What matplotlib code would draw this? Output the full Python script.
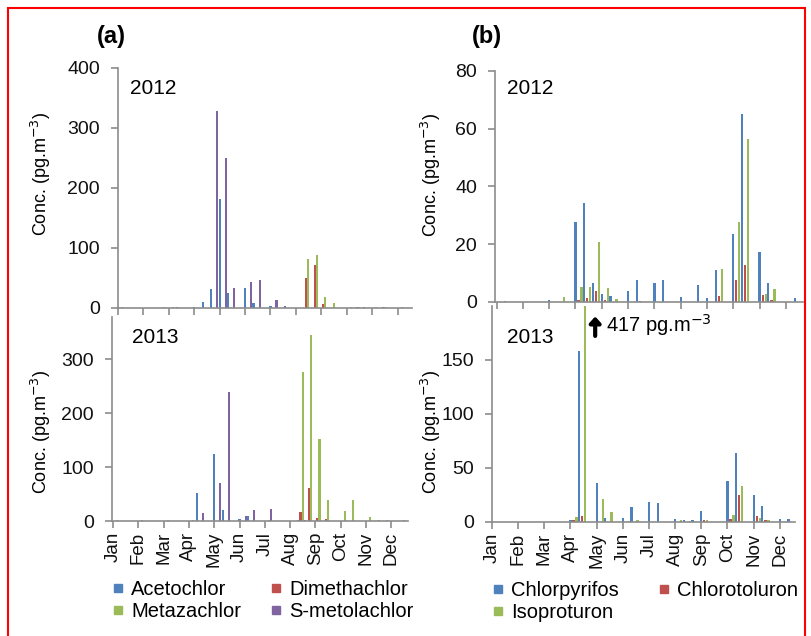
import numpy as np
import matplotlib
matplotlib.use('Agg')
import matplotlib.pyplot as plt
from matplotlib.patches import Rectangle
from matplotlib.lines import Line2D

plt.rcParams['font.family'] = ['Liberation Sans', 'DejaVu Sans']

months = ['Jan', 'Feb', 'Mar', 'Apr', 'May', 'Jun',
          'Jul', 'Aug', 'Sep', 'Oct', 'Nov', 'Dec']

# 36 sampling periods, 3 per month (Jan..Dec)
# panel (a): herbicides
acetochlor_2012 = [1, 0, 0,  0, 0, 0,  0, 1, 0,  1, 10, 32,
                   182, 25, 0,  34, 9, 0,  4, 0, 0,  0, 0, 0,
                   0, 0, 0,  0, 0, 1,  0, 0, 0,  0, 0, 0]
dimethachlor_2012 = [0, 0, 0,  0, 0, 0,  0, 0, 0,  0, 0, 0,
                     0, 0, 0,  0, 0, 0,  0, 0, 0,  0, 50, 71,
                     7, 0, 0,  0, 1, 0,  0, 1, 0,  0, 0, 0]
metazachlor_2012 = [1, 0, 0,  0, 0, 1,  1, 0, 0,  0, 0, 0,
                    0, 0, 0,  0, 0, 0,  0, 0, 0,  0, 82, 88,
                    18, 8, 0,  1, 1, 0,  1, 1, 0,  1, 0, 1]
smetolachlor_2012 = [0, 0, 0,  0, 0, 0,  0, 0, 0,  0, 0, 329,
                     250, 33, 0,  43, 47, 0,  13, 4, 0,  0, 0, 0,
                     0, 0, 0,  0, 0, 0,  0, 0, 0,  0, 0, 0]

acetochlor_2013 = [0, 0, 0,  0, 0, 0,  0, 0, 0,  0, 52, 0,
                   125, 20, 0,  3, 9, 0,  0, 0, 0,  0, 2, 0,
                   0, 0, 0,  0, 0, 0,  0, 0, 0,  0, 0, 0]
dimethachlor_2013 = [0, 0, 0,  0, 0, 0,  0, 0, 0,  0, 0, 0,
                     0, 0, 0,  0, 0, 0,  0, 0, 0,  0, 17, 61,
                     6, 4, 0,  0, 0, 0,  0, 0, 0,  0, 0, 0]
metazachlor_2013 = [1, 0, 0,  1, 0, 0,  1, 0, 0,  1, 0, 0,
                    0, 0, 0,  0, 0, 0,  1, 0, 0,  0, 276, 344,
                    152, 38, 0,  18, 38, 0,  7, 1, 1,  0, 1, 1]
smetolachlor_2013 = [0, 0, 0,  0, 0, 0,  0, 0, 0,  0, 14, 0,
                     70, 239, 0,  9, 21, 0,  23, 0, 0,  0, 2, 0,
                     0, 0, 0,  0, 0, 0,  0, 0, 0,  0, 0, 0]

# panel (b): chlorpyrifos and phenylureas
chlorpyrifos_2012 = [0, 0.3, 0,  0, 0, 0,  0.6, 0, 0,  27.7, 34.4, 6.6,
                     2.9, 2.0, 0,  3.8, 7.7, 0,  6.6, 7.5, 0,  1.7, 0, 6.0,
                     1.4, 11, 0,  23.4, 65, 0,  17.4, 6.6, 0,  0, 1.4, 0]
chlorotoluron_2012 = [0, 0, 0,  0, 0, 0,  0, 0, 0,  0.6, 1.4, 3.7,
                      0.6, 0, 0,  0, 0.3, 0,  0, 0, 0,  0, 0, 0,
                      0, 2.0, 0,  7.5, 12.7, 0,  2.5, 0.6, 0,  0, 0, 0]
isoproturon_2012 = [0, 0, 0,  0, 0, 0,  0, 1.7, 0,  5.2, 5.2, 20.8,
                    4.8, 0.9, 0,  0, 0, 0,  0, 0, 0,  0, 0, 0,
                    0, 11.5, 0,  27.6, 56.5, 0,  2.9, 4.5, 0,  0, 0, 0]

chlorpyrifos_2013 = [1, 0, 0,  0, 0, 0,  0, 0, 0,  1.5, 158, 0,
                     35.4, 3, 0,  3, 13.8, 0,  17.8, 17, 0,  2.5, 1.5, 2,
                     10, 0, 0,  37.5, 64, 0,  24.6, 14.5, 0,  2.5, 2.5, 0]
chlorotoluron_2013 = [0, 0, 0,  0, 0, 0,  0, 0, 0,  2, 5.5, 0,
                      0, 0, 0,  0, 0, 0,  0, 0, 0,  0, 0, 0,
                      2, 0, 0,  2.5, 24.6, 0,  5.5, 1.2, 0,  0, 0, 0]
isoproturon_2013 = [0, 0, 0,  0, 0, 0,  0, 0, 0,  4.6, 417, 0,
                    21, 8.6, 0,  1, 1.5, 0,  0, 0, 0,  1.2, 1, 0,
                    2, 0, 0,  6, 33, 0,  3, 1.2, 0,  0, 0, 0]

herb_names = ['Acetochlor', 'Dimethachlor', 'Metazachlor', 'S-metolachlor']
herb_colors = ['#4F81BD', '#C0504D', '#9BBB59', '#8064A2']
ins_names = ['Chlorpyrifos', 'Chlorotoluron', 'Isoproturon']
ins_colors = ['#4F81BD', '#C0504D', '#9BBB59']

W, H = 811, 636
fig = plt.figure(figsize=(W / 100, H / 100), dpi=100)
AX_COL = '#8c8c8c'


def px_axes(left, top, right, bottom):
    return fig.add_axes([left / W, 1 - bottom / H, (right - left) / W, (bottom - top) / H])


def ftext(x, y, s, **kw):
    return fig.text(x / W, 1 - y / H, s, **kw)


slot_x = np.arange(36) / 3.0


def draw_panel(ax, series, colors, step, ylim, yticks, xlim, show_months):
    for k, (vals, c) in enumerate(zip(series, colors)):
        ax.bar(slot_x + k * step, vals, width=0.085, color=c, linewidth=0,
               antialiased=False)
    ax.set_ylim(*ylim)
    ax.set_xlim(*xlim)
    ax.set_yticks(yticks)
    ax.set_xticks(np.arange(12))
    ax.patch.set_alpha(0)
    for s in ['top', 'right']:
        ax.spines[s].set_visible(False)
    for s in ['left', 'bottom']:
        ax.spines[s].set_color(AX_COL)
        ax.spines[s].set_linewidth(1.2)
    ax.tick_params(axis='both', direction='out', length=5, width=1.2,
                   color=AX_COL, labelsize=14, labelcolor='#111111')
    ax.tick_params(axis='y', pad=8)
    if show_months:
        ax.set_xticklabels(months, rotation=90, fontsize=13.5)
        ax.tick_params(axis='x', pad=3)
    else:
        ax.set_xticklabels([])


# (a) herbicides
ax_a12 = px_axes(118, 68, 412, 308)
draw_panel(ax_a12, [acetochlor_2012, dimethachlor_2012, metazachlor_2012, smetolachlor_2012],
           herb_colors, 0.08, (0, 400), [0, 100, 200, 300, 400], (0, 11.57), False)
ax_a13 = px_axes(112, 317, 408, 521)
draw_panel(ax_a13, [acetochlor_2013, dimethachlor_2013, metazachlor_2013, smetolachlor_2013],
           herb_colors, 0.08, (0, 378), [0, 100, 200, 300], (-0.04, 11.66), True)

# (b) chlorpyrifos etc.
ax_b12 = px_axes(495, 70.7, 803, 302)
draw_panel(ax_b12, [chlorpyrifos_2012, chlorotoluron_2012, isoproturon_2012],
           ins_colors, 0.115, (0, 80), [0, 20, 40, 60, 80], (-0.06, 11.65), False)
ax_b13 = px_axes(492, 305.7, 795, 521.7)
draw_panel(ax_b13, [chlorpyrifos_2013, chlorotoluron_2013, isoproturon_2013],
           ins_colors, 0.115, (0, 200), [0, 50, 100, 150], (0, 11.58), True)

# off-scale isoproturon value
iso_x = slot_x[10] + 2 * 0.115
ax_b13.annotate('', xy=(iso_x + 0.38, 190), xytext=(iso_x + 0.38, 172),
                arrowprops=dict(arrowstyle='-|>,head_width=0.32,head_length=0.35',
                                lw=3, color='black', shrinkA=0, shrinkB=0))
ax_b13.text(iso_x + 0.8, 182, '417 pg.m$^{-3}$', fontsize=14.5, va='center', ha='left')

# year labels, panel labels, axis titles
for x, y, s in [(130, 88, '2012'), (132, 337, '2013'), (507, 88, '2012'), (507, 337, '2013')]:
    ftext(x, y, s, fontsize=15, va='center', ha='left')
ftext(97, 37, '(a)', fontsize=17, fontweight='bold', va='center', ha='left')
ftext(472, 37, '(b)', fontsize=17, fontweight='bold', va='center', ha='left')
for x, y in [(41, 174), (41, 432), (431, 175), (431, 432)]:
    ftext(x, y, 'Conc. (pg.m$^{-3}$)', fontsize=13, rotation=90, va='center', ha='center')

# legends
h_handles = [Line2D([], [], marker='s', linestyle='none', markersize=5.5, color=c)
             for c in herb_colors]
order = [0, 2, 1, 3]
fig.legend([h_handles[i] for i in order], [herb_names[i] for i in order],
           ncol=2, loc='upper left', bbox_to_anchor=(113 / W, 1 - 580 / H),
           frameon=False, fontsize=14.5, handlelength=0.45,
           handletextpad=0.45, columnspacing=1.5, labelspacing=0.15,
           borderpad=0, borderaxespad=0)
i_handles = [Line2D([], [], marker='s', linestyle='none', markersize=5.5, color=c)
             for c in ins_colors]
order = [0, 2, 1]
fig.legend([i_handles[i] for i in order], [ins_names[i] for i in order],
           ncol=2, loc='upper left', bbox_to_anchor=(493 / W, 1 - 581 / H),
           frameon=False, fontsize=14.5, handlelength=0.45,
           handletextpad=0.45, columnspacing=2.0, labelspacing=0.15,
           borderpad=0, borderaxespad=0)

# red frame around the figure
fig.add_artist(Rectangle((8 / W, 1 - 645 / H), 797 / W, 637 / H, transform=fig.transFigure,
                         fill=False, edgecolor='red', linewidth=1.5))

fig.savefig('out.png', dpi=100)
